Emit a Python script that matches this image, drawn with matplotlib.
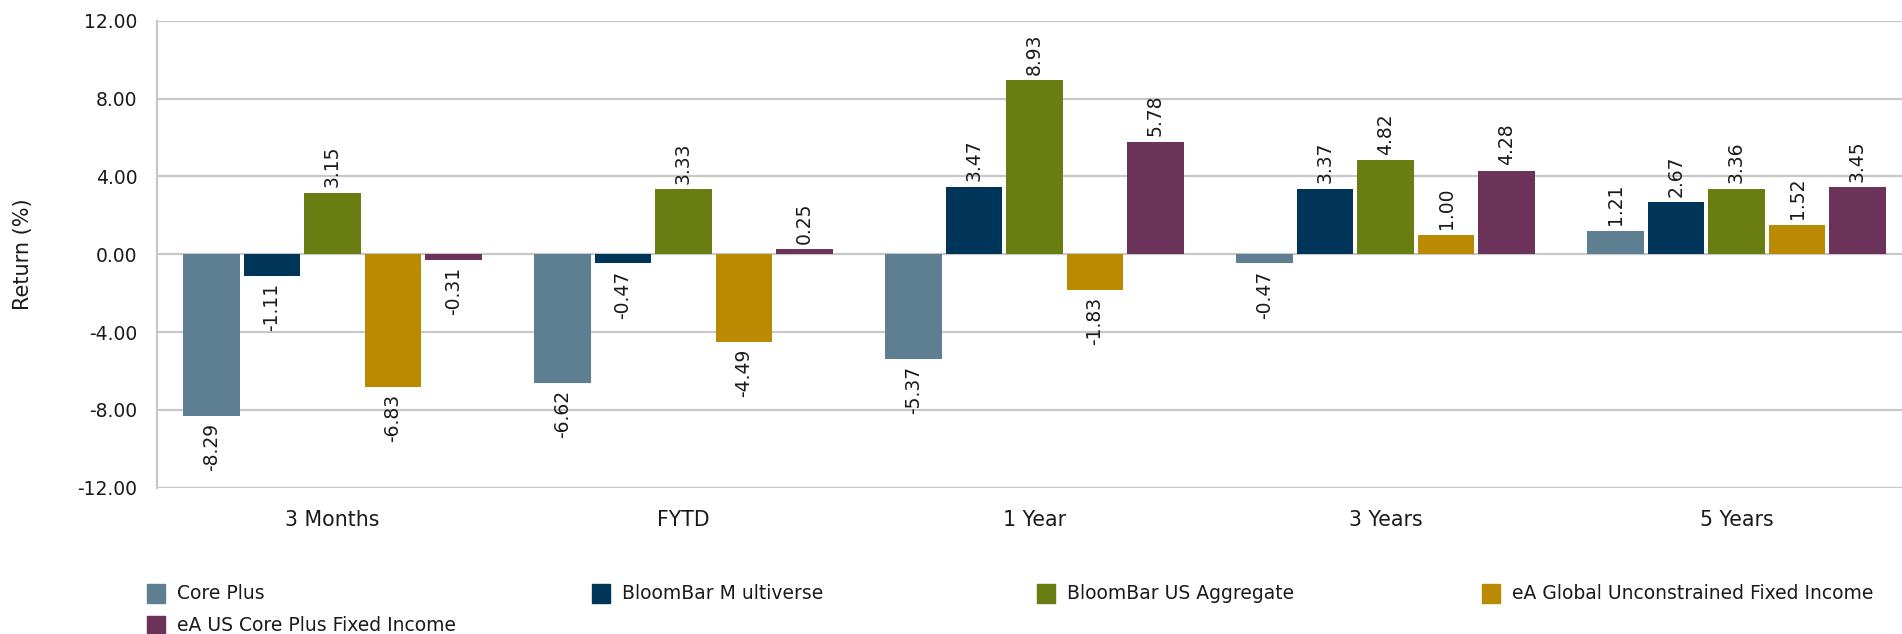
import numpy as np
import matplotlib.pyplot as plt
from matplotlib.patches import Rectangle

plt.rcParams["font.family"] = "DejaVu Sans"
plt.rcParams["axes.unicode_minus"] = False

periods = ["3 Months", "FYTD", "1 Year", "3 Years", "5 Years"]

core_plus = [-8.29, -6.62, -5.37, -0.47, 1.21]
bloombar_multiverse = [-1.11, -0.47, 3.47, 3.37, 2.67]
bloombar_us_agg = [3.15, 3.33, 8.93, 4.82, 3.36]
ea_global_unconstrained = [-6.83, -4.49, -1.83, 1.00, 1.52]
ea_us_core_plus = [-0.31, 0.25, 5.78, 4.28, 3.45]

series_names = [
    "Core Plus",
    "BloomBar M ultiverse",
    "BloomBar US Aggregate",
    "eA Global Unconstrained Fixed Income",
    "eA US Core Plus Fixed Income",
]
series_values = [
    core_plus,
    bloombar_multiverse,
    bloombar_us_agg,
    ea_global_unconstrained,
    ea_us_core_plus,
]
colors = ["#5E7F92", "#00355A", "#6A7D12", "#B98A02", "#6B325A"]

W, H = 1902, 634
fig = plt.figure(figsize=(W / 100, H / 100), dpi=100)

# plot area in pixels (right edge runs past the image edge in the original)
left, right, top, bottom = 157, 1912, 20.7, 487.7
ax = fig.add_axes([left / W, 1 - bottom / H, (right - left) / W, (bottom - top) / H])

x = np.arange(len(periods))
pitch = 0.1724
width = 0.162
grid_color = "#C8C8C8"
text_color = "#1a1a1a"

for i, (name, vals, col) in enumerate(zip(series_names, series_values, colors)):
    xs = x + (i - 2) * pitch
    ax.bar(xs, vals, width=width, color=col, zorder=3, label=name)
    for xi, v in zip(xs, vals):
        ax.annotate(
            f"{v:.2f}",
            xy=(xi, v),
            xytext=(0, 4 if v >= 0 else -5),
            textcoords="offset points",
            rotation=90,
            ha="center",
            va="bottom" if v >= 0 else "top",
            fontsize=13.5,
            color=text_color,
            zorder=4,
        )

ax.set_xlim(-0.5, 4.5)
ax.set_ylim(-12, 12)
yt = np.arange(-12, 13, 4)
ax.set_yticks(yt)
ax.set_yticklabels([f"{v:.2f}" for v in yt])
ax.set_xticks(x)
ax.set_xticklabels(periods)

for v in yt:
    ax.axhline(v, color=grid_color, lw=1.6, zorder=1)

for s in ["top", "right", "bottom"]:
    ax.spines[s].set_visible(False)
ax.spines["left"].set_color(grid_color)
ax.spines["left"].set_linewidth(1.6)

ax.tick_params(axis="y", length=0, pad=14, labelsize=13.5, labelcolor=text_color)
ax.tick_params(axis="x", length=0, pad=16, labelsize=14.8, labelcolor=text_color)

ax.set_ylabel("Return (%)", fontsize=15, color=text_color)
ax.yaxis.set_label_coords((33 - left) / (right - left), 0.5)

# legend drawn by hand: four columns, two rows
for i, (name, col) in enumerate(zip(series_names, colors)):
    px = 147 + (i % 4) * 445
    py = 593.5 + (i // 4) * 32
    fig.add_artist(Rectangle((px / W, 1 - (py + 9.5) / H), 18 / W, 19 / H,
                             transform=fig.transFigure, color=col))
    fig.text((px + 30) / W, 1 - py / H, name, fontsize=13.5, va="center",
             ha="left", color=text_color)

fig.savefig("out.png", dpi=100)
